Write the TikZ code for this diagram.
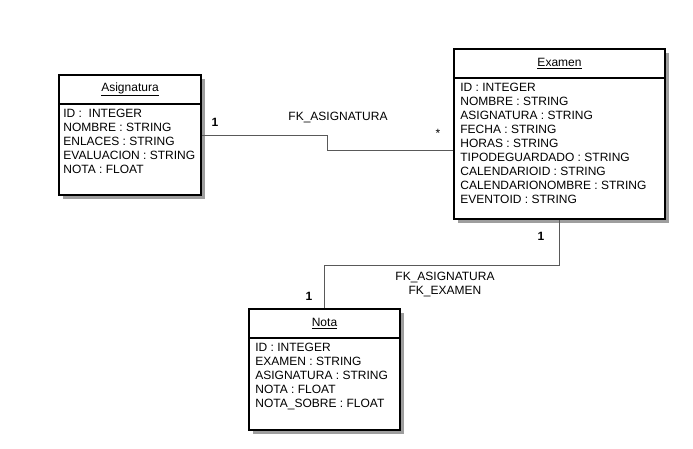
\documentclass[tikz,border=0pt]{standalone}
\usepackage{fontspec}
\setmainfont{Liberation Sans}
\usetikzlibrary{shadows}

\tikzset{
    classbox/.style={draw=black, line width=1.6pt, fill=white, inner sep=0pt,
        drop shadow={shadow xshift=4pt, shadow yshift=-4pt, fill=black!38, opacity=1}},
    header/.style={line width=1.6pt},
    attrs/.style={anchor=north west, inner sep=0pt, align=left},
    conn/.style={draw=black!65, line width=1pt},
    mult/.style={inner sep=0pt, font=\fontsize{12pt}{14pt}\selectfont\bfseries},
    fklabel/.style={inner sep=0pt, align=center}
}

\begin{document}
\begin{tikzpicture}[x=1pt, y=-1pt, font=\fontsize{12pt}{14pt}\selectfont]
    \useasboundingbox[fill=white] (0,0) rectangle (693,448);
    %% Classes
    \node[classbox, minimum width=142pt, minimum height=120pt] (asig) at (130,135) {};
    \node[classbox, minimum width=211pt, minimum height=170pt] (exam) at (559.5,134) {};
    \node[classbox, minimum width=151pt, minimum height=121pt] (nota) at (324.5,369.5) {};
    %% Headers
    \foreach \c/\name in {asig/Asignatura, exam/Examen, nota/Nota} {
        \draw[header] ([yshift=-30pt]\c.north west) -- ([yshift=-30pt]\c.north east);
        \node[inner sep=0pt] (\c-title) at ([yshift=-15pt]\c.north) {\underline{\name}};
    }
    %% Attributes
    \node[attrs] (asig-attrs) at ([xshift=5pt,yshift=-35pt]asig.north west)
        {ID :\ \ INTEGER\\ NOMBRE : STRING\\ ENLACES : STRING\\
         EVALUACION : STRING\\ NOTA : FLOAT};
    \node[attrs] (exam-attrs) at ([xshift=7pt,yshift=-35pt]exam.north west)
        {ID : INTEGER\\ NOMBRE : STRING\\ ASIGNATURA : STRING\\ FECHA : STRING\\
         HORAS : STRING\\ TIPODEGUARDADO : STRING\\ CALENDARIOID : STRING\\
         CALENDARIONOMBRE : STRING\\ EVENTOID : STRING};
    \node[attrs] (nota-attrs) at ([xshift=7pt,yshift=-35pt]nota.north west)
        {ID : INTEGER\\ EXAMEN : STRING\\ ASIGNATURA : STRING\\ NOTA : FLOAT\\
         NOTA\_SOBRE : FLOAT};
    %% Relations
    \draw[conn] (asig.east) -- ++(126,0) |- ([yshift=-16pt]exam.west);
    \node[mult] (m1) at (215,122) {1};
    \node[inner sep=0pt] (m2) at (438,133) {*};
    \node[fklabel] (fk1) at (338,117) {FK\_ASIGNATURA};
    \draw[conn] (exam.south) -- ++(0,46) -| (nota.north);
    \node[mult] (m3) at (541,236) {1};
    \node[mult] (m4) at (309,296) {1};
    \node[fklabel] (fk2) at (445,284) {FK\_ASIGNATURA\\ FK\_EXAMEN};
\end{tikzpicture}
\end{document}
